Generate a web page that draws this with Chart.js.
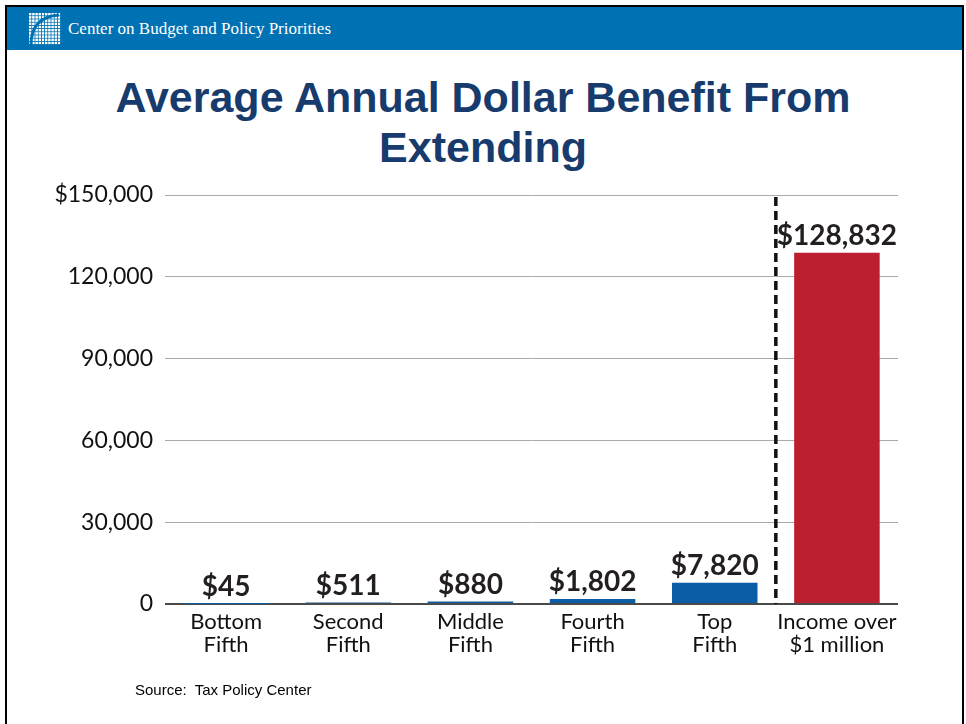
<!DOCTYPE html>
<html>
<head>
<meta charset="utf-8">
<script src="https://cdn.jsdelivr.net/npm/chart.js@4"></script>
<style>
  html, body { margin:0; padding:0; background:#fff; }
  body { width:966px; height:724px; position:relative; overflow:hidden; }
  #frame { position:absolute; left:5px; top:5px; width:955px; height:740px; border:2px solid #000; border-bottom:none; }
  #header { position:absolute; left:7px; top:7px; width:955px; height:43px; background:#0071b2; }
  #header .txt { position:absolute; left:61px; top:12px; font-family:"Liberation Serif", serif; font-size:17px; color:#fff; white-space:nowrap; }
  #logo { position:absolute; left:22px; top:6px; }
  #title { position:absolute; left:0; top:72px; width:966px; text-align:center; font-family:"Liberation Sans", Arial, sans-serif; font-weight:bold; font-size:43px; line-height:50px; color:#173b6c; }
  #source { position:absolute; left:135px; top:681px; font-family:"Liberation Sans", Arial, sans-serif; font-size:15px; color:#000; white-space:pre; }
  #wrap { position:absolute; left:0; top:0; width:966px; height:724px; }
</style>
</head>
<body>
<div id="frame"></div>
<div id="header">
  <svg id="logo" width="32" height="32" viewBox="0 0 32 32">
    <defs>
      <pattern id="g" width="3.2" height="3.2" patternUnits="userSpaceOnUse">
        <rect x="0" y="0" width="2.4" height="2.4" fill="#fff"/>
      </pattern>
    </defs>
    <rect x="0" y="0" width="32" height="32" fill="url(#g)"/>
    <path d="M2 32 Q2 4 30 2" stroke="#0071b2" stroke-width="3" fill="none"/>
  </svg>
  <div class="txt">Center on Budget and Policy Priorities</div>
</div>
<div id="title">Average Annual Dollar Benefit From<br>Extending</div>
<div id="wrap"><canvas id="c" width="966" height="724"></canvas></div>
<div id="source">Source:  Tax Policy Center</div>
<script>
const categories = [["Bottom","Fifth"],["Second","Fifth"],["Middle","Fifth"],["Fourth","Fifth"],["Top","Fifth"],["Income over","$1 million"]];
const values = [45, 511, 880, 1802, 7820, 128832];
const valueLabels = ["$45","$511","$880","$1,802","$7,820","$128,832"];
const barColors = ["#0b5ea6","#0b5ea6","#0b5ea6","#0b5ea6","#0b5ea6","#bc1f2f"];
const yTicks = [0, 30000, 60000, 90000, 120000, 150000];
const yTickLabels = ["0","30,000","60,000","90,000","120,000","$150,000"];

const valueLabelPlugin = {
  id: 'valueLabels',
  afterDatasetsDraw(chart) {
    const ctx = chart.ctx;
    const meta = chart.getDatasetMeta(0);
    ctx.save();
    ctx.font = 'bold 28px Lato, "Open Sans", sans-serif';
    ctx.fillStyle = '#231f20';
    ctx.textAlign = 'center';
    ctx.textBaseline = 'alphabetic';
    meta.data.forEach((bar, i) => {
      ctx.fillText(valueLabels[i], bar.x, bar.y - 8);
    });
    ctx.restore();
  }
};

const dividerPlugin = {
  id: 'divider',
  afterDatasetsDraw(chart) {
    const xs = chart.scales.x, ys = chart.scales.y;
    const x = (xs.getPixelForValue(4) + xs.getPixelForValue(5)) / 2;
    const ctx = chart.ctx;
    ctx.save();
    ctx.strokeStyle = '#111';
    ctx.lineWidth = 3.5;
    ctx.setLineDash([9, 5]);
    ctx.beginPath();
    ctx.moveTo(x, ys.getPixelForValue(yTicks[yTicks.length - 1]) + 2);
    ctx.lineTo(x, ys.getPixelForValue(0));
    ctx.stroke();
    ctx.restore();
  }
};

new Chart(document.getElementById('c'), {
  type: 'bar',
  data: {
    labels: categories,
    datasets: [{ data: values, backgroundColor: barColors, borderWidth: 0, barPercentage: 0.7, categoryPercentage: 1 }]
  },
  options: {
    responsive: false,
    animation: false,
    devicePixelRatio: 1,
    layout: { padding: { left: 0, right: 68, top: 195, bottom: 60 } },
    plugins: { legend: { display: false }, tooltip: { enabled: false } },
    scales: {
      x: {
        afterFit(s) { s.height = 60; },
        grid: { display: false, drawTicks: false },
        border: { display: false },
        ticks: {
          color: '#111',
          padding: 6,
          maxRotation: 0,
          autoSkip: false,
          font: { family: 'Lato, "Open Sans", sans-serif', size: 22, lineHeight: 1.05 }
        }
      },
      y: {
        min: 0, max: 150000,
        afterFit(s) { s.width = 165; },
        afterBuildTicks(s) { s.ticks = yTicks.map(v => ({ value: v })); },
        border: { display: false },
        grid: {
          drawTicks: false,
          color: (c) => c.tick && c.tick.value === 0 ? '#4a4a4a' : '#a9a9a9',
          lineWidth: (c) => c.tick && c.tick.value === 0 ? 2 : 1
        },
        ticks: {
          color: '#111',
          padding: 12,
          font: { family: 'Lato, "Open Sans", sans-serif', size: 23 },
          callback: (v) => yTickLabels[yTicks.indexOf(v)]
        }
      }
    }
  },
  plugins: [valueLabelPlugin, dividerPlugin]
});
</script>
</body>
</html>
